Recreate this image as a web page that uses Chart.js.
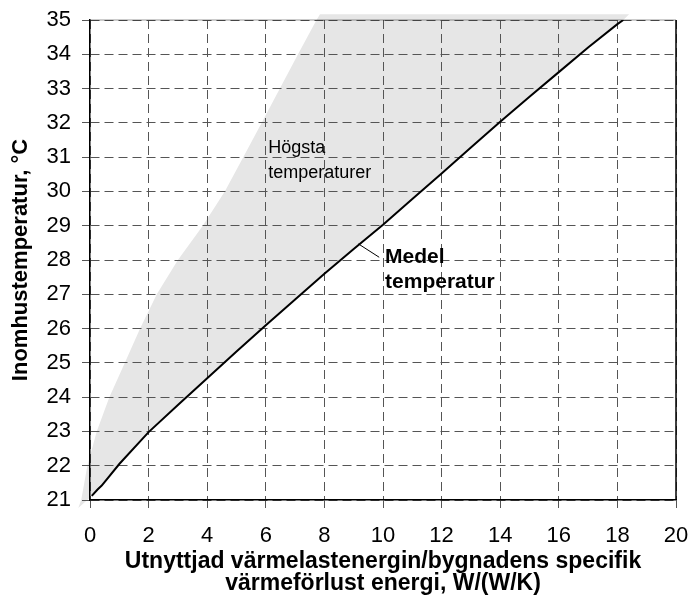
<!DOCTYPE html>
<html>
<head>
<meta charset="utf-8">
<script src="https://cdn.jsdelivr.net/npm/chart.js@4.4.1/dist/chart.umd.min.js"></script>
<style>
    html, body { margin: 0; padding: 0; overflow: hidden; background: #fff; }
    #grafikTemp { display: block; }
</style>
</head>
<body>
<canvas id="grafikTemp" width="691" height="599"></canvas>
<script>
// Medeltemperatur (svart linje)
const medelX = [0.06, 0.25, 0.4, 1, 2, 3, 4, 5, 6, 7, 8, 9, 10, 11, 12, 13, 14, 15, 16, 17, 18, 18.2];
const medelY = [21.12, 21.3, 21.42, 22.05, 22.98, 23.77, 24.55, 25.33, 26.1, 26.85, 27.6, 28.32, 29.03, 29.78, 30.52, 31.28, 32.03, 32.76, 33.48, 34.2, 34.88, 35.0];

// Högsta temperaturer - vänster/övre kant av grått fält
const hogstaX = [-0.4, -0.3, -0.09, 0.23, 0.66, 1.19, 1.71, 2.28, 3.0, 3.85, 4.6, 5.23, 5.86, 6.48, 7.1, 7.73, 7.85, 18.4];
const hogstaY = [20.77, 21, 22, 23, 24, 25, 26, 27, 28, 29, 30, 31, 32, 33, 34, 35, 35.17, 35.17];

// Pekarlinje till "Medel temperatur"
const pekareX = [9.16, 9.87];
const pekareY = [28.47, 28.08];

const xTicks = [0, 2, 4, 6, 8, 10, 12, 14, 16, 18, 20];
const yTicks = [21, 22, 23, 24, 25, 26, 27, 28, 29, 30, 31, 32, 33, 34, 35];

const texter = [
    { text: 'Högsta', x: 6.08, y: 31.27, bold: false },
    { text: 'temperaturer', x: 6.08, y: 30.55, bold: false },
    { text: 'Medel', x: 10.07, y: 28.08, bold: true },
    { text: 'temperatur', x: 10.07, y: 27.35, bold: true }
];

const FONT = '"Liberation Sans", Arial, sans-serif';

const toPts = (xs, ys) => xs.map((x, i) => ({ x: x, y: ys[i] }));

// grått fält ritas före rutnätet så att strecken syns ovanpå
const faltPlugin = {
    id: 'falt',
    beforeDraw(chart) {
        const { ctx, scales: { x, y } } = chart;
        ctx.save();
        ctx.fillStyle = '#e6e6e6';
        ctx.beginPath();
        hogstaX.forEach((v, i) => {
            const px = x.getPixelForValue(v), py = y.getPixelForValue(hogstaY[i]);
            if (i === 0) ctx.moveTo(px, py); else ctx.lineTo(px, py);
        });
        for (let i = medelX.length - 1; i >= 0; i--) {
            ctx.lineTo(x.getPixelForValue(medelX[i]), y.getPixelForValue(medelY[i]));
        }
        ctx.closePath();
        ctx.fill();
        ctx.restore();
    },
    afterDraw(chart) {
        const { ctx, chartArea: a, scales: { x, y } } = chart;
        ctx.save();
        // ram uppe och till höger
        ctx.strokeStyle = '#000';
        ctx.lineWidth = 1.5;
        ctx.beginPath();
        ctx.moveTo(a.right, a.top);
        ctx.lineTo(a.right, a.bottom);
        ctx.stroke();
        ctx.strokeStyle = 'rgba(0,0,0,0.4)';
        ctx.lineWidth = 1;
        ctx.beginPath();
        ctx.moveTo(a.left, a.top);
        ctx.lineTo(a.right, a.top);
        ctx.stroke();

        ctx.fillStyle = '#000';
        ctx.textAlign = 'left';
        ctx.textBaseline = 'middle';
        texter.forEach(t => {
            ctx.font = (t.bold ? 'bold 21px ' : '18px ') + FONT;
            ctx.fillText(t.text, x.getPixelForValue(t.x), y.getPixelForValue(t.y));
        });
        ctx.restore();
    }
};

new Chart(document.getElementById('grafikTemp').getContext('2d'), {
    type: 'scatter',
    data: {
        datasets: [{
            label: 'Medel temperatur',
            data: toPts(medelX, medelY),
            showLine: true,
            borderColor: '#000',
            borderWidth: 2,
            pointRadius: 0,
            tension: 0
        }, {
            label: 'pekare',
            data: toPts(pekareX, pekareY),
            showLine: true,
            borderColor: '#000',
            borderWidth: 1,
            pointRadius: 0
        }]
    },
    options: {
        responsive: false,
        animation: false,
        layout: { padding: { top: 20, right: 15, left: 0, bottom: 0 } },
        plugins: {
            legend: { display: false },
            tooltip: { enabled: false }
        },
        scales: {
            x: {
                type: 'linear',
                min: 0,
                max: 20,
                afterBuildTicks: s => { s.ticks = xTicks.map(v => ({ value: v })); },
                afterFit: s => { s.height = 99; s.paddingRight = 0; s.paddingLeft = 0; },
                ticks: {
                    color: '#000',
                    font: { family: FONT, size: 22 },
                    padding: 15
                },
                grid: {
                    color: '#555',
                    lineWidth: 1,
                    tickLength: 8,
                    tickColor: '#555'
                },
                border: { display: true, color: '#000', width: 1.5, dash: [9, 5] },
                title: {
                    display: true,
                    text: ['Utnyttjad värmelastenergin/bygnadens specifik', 'värmeförlust energi, W/(W/K)'],
                    color: '#000',
                    font: { family: FONT, size: 23, weight: 'bold', lineHeight: 0.97 },
                    padding: { top: 0, bottom: 4 }
                }
            },
            y: {
                min: 21,
                max: 35,
                afterBuildTicks: s => { s.ticks = yTicks.map(v => ({ value: v })); },
                afterFit: s => { s.width = 90; s.paddingTop = 0; s.paddingBottom = 0; },
                ticks: {
                    color: '#000',
                    font: { family: FONT, size: 22 },
                    padding: 11
                },
                grid: {
                    color: '#555',
                    lineWidth: 1,
                    tickLength: 8,
                    tickColor: '#555'
                },
                border: { display: true, color: '#000', width: 1.5, dash: [9, 5] },
                title: {
                    display: true,
                    text: 'Inomhustemperatur, °C',
                    color: '#000',
                    font: { family: FONT, size: 22, weight: 'bold' },
                    padding: { top: 8, bottom: 0 }
                }
            }
        }
    },
    plugins: [faltPlugin]
});
</script>
</body>
</html>
